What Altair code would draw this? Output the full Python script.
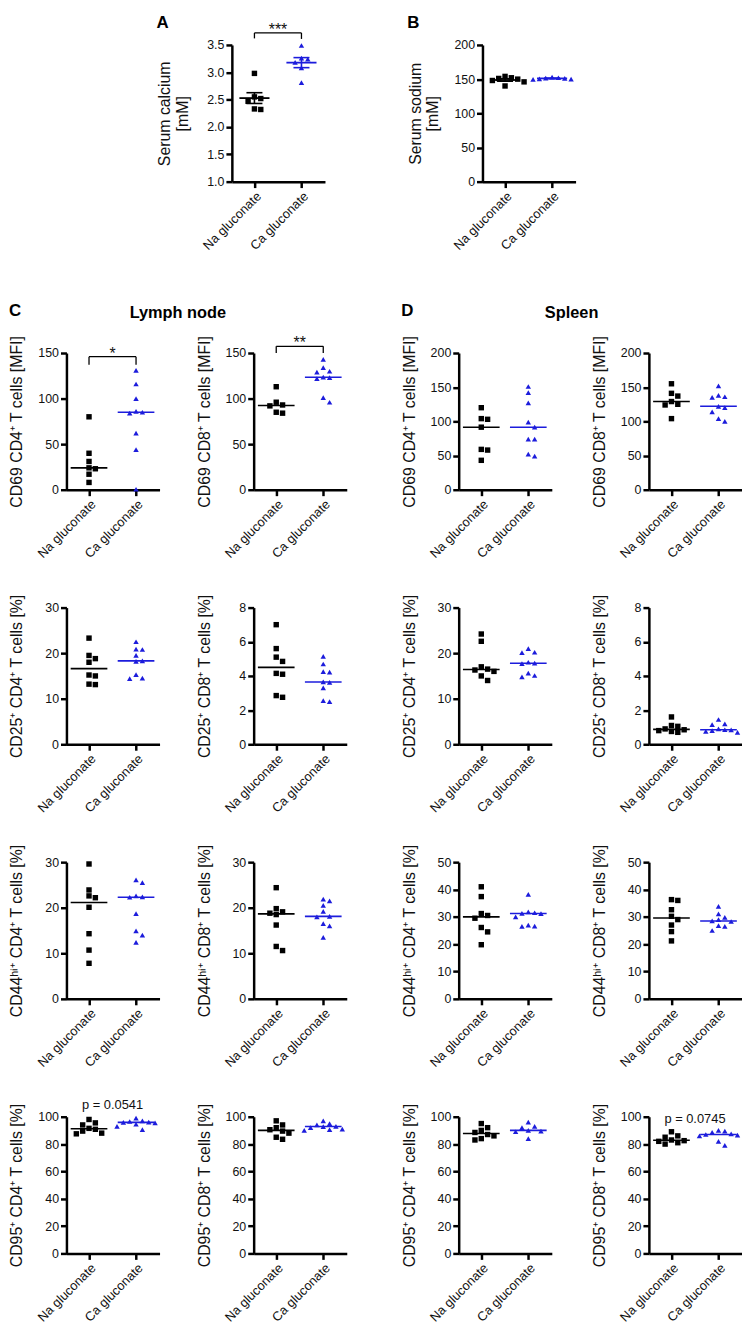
import altair as alt
import pandas as pd

# ---------------- data ----------------
GROUPS = ["Na gluconate", "Ca gluconate"]

A_NA = [2.98, 2.55, 2.52, 2.47, 2.33, 2.32]
A_CA = [3.49, 3.26, 3.24, 3.18, 3.08, 2.81]
B_NA = [154, 152, 151, 150, 148, 146, 140]
B_CA = [153, 152, 151.5, 151, 150.5, 150, 149.5]

LN_CD69_CD4_NA = [80, 40, 31, 24, 23, 17, 8]
LN_CD69_CD4_CA = [131, 116, 100, 86, 85, 84, 62, 44, 0.5]
LN_CD69_CD8_NA = [113, 96, 93, 92, 85, 84]
LN_CD69_CD8_CA = [143, 134, 130, 129, 123.5, 123, 122, 101, 96]
SP_CD69_CD4_NA = [120, 104, 103, 91.5, 59, 58, 43]
SP_CD69_CD4_CA = [151, 142, 127, 99, 91.5, 74, 74, 52, 49]
SP_CD69_CD8_NA = [155, 141, 137, 129, 125, 124, 104]
SP_CD69_CD8_CA = [152, 138, 136, 135, 122, 120, 114, 104, 100]

LN_CD25_CD4_NA = [23.3, 19.5, 18.8, 18.0, 15.2, 15.0, 13.2, 13.1]
LN_CD25_CD4_CA = [22.5, 20.9, 20.8, 19.5, 18.3, 18.2, 15.3, 14.5, 14.4]
LN_CD25_CD8_NA = [7.0, 5.6, 5.1, 4.85, 4.15, 4.1, 2.85, 2.75]
LN_CD25_CD8_CA = [5.15, 4.7, 4.25, 4.22, 3.65, 3.62, 3.3, 2.55, 2.5]
SP_CD25_CD4_NA = [24.2, 22.6, 17.0, 16.5, 16.3, 16.0, 15.0, 14.0]
SP_CD25_CD4_CA = [21.0, 20.2, 20.1, 18.0, 17.8, 17.7, 15.6, 15.1, 14.8]
SP_CD25_CD8_NA = [1.6, 1.1, 1.05, 0.9, 0.85, 0.8, 0.75, 0.7]
SP_CD25_CD8_CA = [1.45, 1.2, 1.15, 0.9, 0.85, 0.84, 0.8, 0.75, 0.7]

LN_CD44_CD4_NA = [29.6, 23.9, 22.6, 22.2, 20.1, 14.3, 10.7, 7.8]
LN_CD44_CD4_CA = [26.1, 25.5, 22.6, 22.4, 22.3, 18.7, 14.9, 14.0, 12.4]
LN_CD44_CD8_NA = [24.4, 19.8, 19.1, 18.8, 18.5, 16.2, 11.5, 10.6]
LN_CD44_CD8_CA = [21.9, 21.5, 20.5, 19.2, 18.1, 18.0, 16.5, 16.0, 13.5]
SP_CD44_CD4_NA = [41.0, 37.4, 31.2, 30.5, 29.5, 26.1, 24.5, 19.8]
SP_CD44_CD4_CA = [38.2, 31.8, 31.5, 31.3, 31.2, 30.0, 27.0, 26.6, 26.5]
SP_CD44_CD8_NA = [36.3, 36.0, 32.6, 30.2, 29.0, 27.0, 24.6, 21.2]
SP_CD44_CD8_CA = [33.8, 31.1, 29.8, 29.0, 28.5, 28.3, 26.8, 26.5, 25.0]

LN_CD95_CD4_NA = [98, 95.5, 94, 91.5, 90.8, 89.5, 88, 87.5]
LN_CD95_CD4_CA = [99, 97, 96.5, 96, 95.9, 95.5, 94.5, 93, 90.5]
LN_CD95_CD8_NA = [97, 94, 92, 90.5, 89.5, 88, 85, 83.5]
LN_CD95_CD8_CA = [97, 95, 94, 93, 92.8, 92, 91, 90.5, 90]
SP_CD95_CD4_NA = [95, 92, 90, 88.5, 87, 86, 84, 83]
SP_CD95_CD4_CA = [96, 93, 92, 90, 89.5, 89, 84]
SP_CD95_CD8_NA = [89, 86, 85, 83, 82.5, 82, 81, 80]
SP_CD95_CD8_CA = [90, 89.5, 88.5, 87.5, 87, 86.5, 86, 82, 79]

# ---------------- style / layout ----------------
NA_COLOR = "#000000"
CA_COLOR = "#1c1cdc"
FONT = "Liberation Sans"
PW, PH = 94, 138
XLO, XHI = -0.48, 1.5
GHOST = -31
GHOST_AB = -24

SPACER_W = 8
AB_SP = 83
C_COL_SP = 36
D_COL_SP = 39
ROW_SP = 15
CD_SP = 54
V_SP = 49


def swarm(vals, lo, hi, d=6.4, s=5.6):
    unit = PW / (XHI - XLO)
    pys = [(v - lo) / (hi - lo) * PH for v in vals]
    order = sorted(range(len(vals)), key=lambda i: -vals[i])
    cands = [0.0]
    for k in range(1, 14):
        cands += [k * d / 2, -k * d / 2]
    placed = []
    offs = [0.0] * len(vals)
    for i in order:
        chosen = cands[-1]
        for ox in cands:
            if all(not (abs(ox - px) < d * 0.95 and abs(pys[i] - py) < s) for px, py in placed):
                chosen = ox
                break
        placed.append((chosen, pys[i]))
        offs[i] = chosen / unit
    return offs


def make_panel(na, ca, lo, hi, ticks, title, fmt=None, kind="median",
               rules=None, texts=None, letter=None, ghost=GHOST):
    off_na = swarm(na, lo, hi)
    off_ca = swarm(ca, lo, hi)
    df = pd.DataFrame({
        "g": [GROUPS[0]] * len(na) + [GROUPS[1]] * len(ca),
        "gi": [0] * len(na) + [1] * len(ca),
        "v": list(na) + list(ca),
        "x": [0 + o for o in off_na] + [1 + o for o in off_ca],
    })
    xs = alt.Scale(domain=[XLO, XHI], nice=False, zero=False)
    ys = alt.Scale(domain=[lo, hi], nice=False, zero=False)
    xax = alt.Axis(values=[0, 1],
                   labelExpr="datum.value < 0.5 ? 'Na gluconate' : 'Ca gluconate'",
                   labelAngle=-45, labelOverlap=False, labelFlush=False, grid=False,
                   domainWidth=2.5, domainColor="black", tickWidth=2.5, tickColor="black",
                   tickSize=6, labelFontSize=13, labelPadding=2, labelColor="#111111")
    ykw = dict(values=ticks, grid=False, domainWidth=2.5, domainColor="black",
               tickWidth=2.5, tickColor="black", tickSize=6, labelFontSize=12.5,
               labelPadding=2, labelOverlap=False, labelFlush=False, minExtent=30,
               titlePadding=12, titleFontSize=16, titleFontWeight="normal",
               labelColor="#111111", titleColor="#111111")
    if fmt:
        ykw["format"] = fmt
    yax = alt.Axis(**ykw)

    def X(f):
        return alt.X(f, scale=xs, axis=xax, title=None)

    def Y(f):
        return alt.Y(f, scale=ys, axis=yax, title=title)

    col = alt.Color("g:N", scale=alt.Scale(domain=GROUPS, range=[NA_COLOR, CA_COLOR]), legend=None)
    shp = alt.Shape("g:N", scale=alt.Scale(domain=GROUPS, range=["square", "triangle-up"]), legend=None)

    layers = []
    layers.append(alt.Chart(pd.DataFrame({"z": [0]})).mark_point(opacity=0, size=4)
                  .encode(x=alt.value(PW / 2), y=alt.value(ghost)))
    base = alt.Chart(df)
    layers.append(base.mark_point(filled=True, opacity=1, size=30)
                  .encode(x=X("x:Q"), y=Y("v:Q"), color=col, shape=shp))
    if kind == "median":
        layers.append(base.transform_aggregate(v="median(v)", groupby=["g", "gi"])
                      .transform_calculate(x1="datum.gi - 0.39", x2="datum.gi + 0.39")
                      .mark_rule(strokeWidth=1.6)
                      .encode(x=X("x1:Q"), x2="x2:Q", y=Y("v:Q"), color=col))
    else:
        agg = (base.transform_aggregate(m="mean(v)", se="stderr(v)", groupby=["g", "gi"])
               .transform_calculate(lo="datum.m - datum.se", hi="datum.m + datum.se",
                                    xa="datum.gi - 0.32", xb="datum.gi + 0.32",
                                    ca="datum.gi - 0.17", cb="datum.gi + 0.17"))
        layers.append(agg.mark_rule(strokeWidth=1.8).encode(x=X("xa:Q"), x2="xb:Q", y=Y("m:Q"), color=col))
        layers.append(agg.mark_rule(strokeWidth=1.6).encode(x=X("ca:Q"), x2="cb:Q", y=Y("lo:Q"), color=col))
        layers.append(agg.mark_rule(strokeWidth=1.6).encode(x=X("ca:Q"), x2="cb:Q", y=Y("hi:Q"), color=col))
        layers.append(agg.mark_rule(strokeWidth=1.6).encode(x=X("gi:Q"), y=Y("lo:Q"), y2="hi:Q", color=col))
    if rules:
        rdf = pd.DataFrame(rules, columns=["x1", "x2", "y1", "y2"])
        layers.append(alt.Chart(rdf).mark_rule(color="black", strokeWidth=1.3)
                      .encode(x=X("x1:Q"), x2="x2:Q", y=Y("y1:Q"), y2="y2:Q"))
    if texts:
        tdf = pd.DataFrame(texts, columns=["t", "x", "y", "fs"])
        layers.append(alt.Chart(tdf).mark_text(baseline="alphabetic", color="#111111", font=FONT)
                      .encode(x=X("x:Q"), y=Y("y:Q"), text="t:N",
                              size=alt.Size("fs:Q", scale=None, legend=None)))
    ch = alt.layer(*layers).properties(width=PW, height=PH)
    if letter:
        ch = ch.properties(title=alt.TitleParams(letter, anchor="start", fontSize=17, fontWeight="bold",
                                                 offset=0, dy=12, font=FONT, color="#000000"))
    return ch


T_150 = [0, 50, 100, 150]
T_200 = [0, 50, 100, 150, 200]
T_30 = [0, 10, 20, 30]
T_8 = [0, 2, 4, 6, 8]
T_50 = [0, 10, 20, 30, 40, 50]
T_100 = [0, 20, 40, 60, 80, 100]

pA = make_panel(A_NA, A_CA, 1.0, 3.5, [1.0, 1.5, 2.0, 2.5, 3.0, 3.5], ["Serum calcium", "[mM]"],
                fmt=".1f", kind="mean",
                rules=[(0, 1, 3.72, 3.72), (0, 0, 3.62, 3.72), (1, 1, 3.61, 3.72)],
                texts=[("***", 0.5, 3.68, 16)], letter="A", ghost=GHOST_AB)
pB = make_panel(B_NA, B_CA, 0, 200, T_200, ["Serum sodium", "[mM]"], kind="mean", letter="B",
                ghost=GHOST_AB)

C_panels = [
    make_panel(LN_CD69_CD4_NA, LN_CD69_CD4_CA, 0, 150, T_150, "CD69 CD4\u207a T cells [MFI]",
               rules=[(0, 1, 146, 146), (0, 0, 137, 146), (1, 1, 137, 146)],
               texts=[("*", 0.5, 143.5, 16)]),
    make_panel(LN_CD69_CD8_NA, LN_CD69_CD8_CA, 0, 150, T_150, "CD69 CD8\u207a T cells [MFI]",
               rules=[(0, 1, 157.3, 157.3), (0, 0, 150, 157.3), (1, 1, 150, 157.3)],
               texts=[("**", 0.5, 155, 16)]),
    make_panel(LN_CD25_CD4_NA, LN_CD25_CD4_CA, 0, 30, T_30, "CD25\u207a CD4\u207a T cells [%]"),
    make_panel(LN_CD25_CD8_NA, LN_CD25_CD8_CA, 0, 8, T_8, "CD25\u207a CD8\u207a T cells [%]"),
    make_panel(LN_CD44_CD4_NA, LN_CD44_CD4_CA, 0, 30, T_30, "CD44\u02b0\u2071\u207a CD4\u207a T cells [%]"),
    make_panel(LN_CD44_CD8_NA, LN_CD44_CD8_CA, 0, 30, T_30, "CD44\u02b0\u2071\u207a CD8\u207a T cells [%]"),
    make_panel(LN_CD95_CD4_NA, LN_CD95_CD4_CA, 0, 100, T_100, "CD95\u207a CD4\u207a T cells [%]",
               texts=[("p = 0.0541", 0.5, 105.8, 13)]),
    make_panel(LN_CD95_CD8_NA, LN_CD95_CD8_CA, 0, 100, T_100, "CD95\u207a CD8\u207a T cells [%]"),
]
D_panels = [
    make_panel(SP_CD69_CD4_NA, SP_CD69_CD4_CA, 0, 200, T_200, "CD69 CD4\u207a T cells [MFI]"),
    make_panel(SP_CD69_CD8_NA, SP_CD69_CD8_CA, 0, 200, T_200, "CD69 CD8\u207a T cells [MFI]"),
    make_panel(SP_CD25_CD4_NA, SP_CD25_CD4_CA, 0, 30, T_30, "CD25\u207a CD4\u207a T cells [%]"),
    make_panel(SP_CD25_CD8_NA, SP_CD25_CD8_CA, 0, 8, T_8, "CD25\u207a CD8\u207a T cells [%]"),
    make_panel(SP_CD44_CD4_NA, SP_CD44_CD4_CA, 0, 50, T_50, "CD44\u02b0\u2071\u207a CD4\u207a T cells [%]"),
    make_panel(SP_CD44_CD8_NA, SP_CD44_CD8_CA, 0, 50, T_50, "CD44\u02b0\u2071\u207a CD8\u207a T cells [%]"),
    make_panel(SP_CD95_CD4_NA, SP_CD95_CD4_CA, 0, 100, T_100, "CD95\u207a CD4\u207a T cells [%]"),
    make_panel(SP_CD95_CD8_NA, SP_CD95_CD8_CA, 0, 100, T_100, "CD95\u207a CD8\u207a T cells [%]",
               texts=[("p = 0.0745", 0.5, 95.7, 13)]),
]

spacer = (alt.Chart(pd.DataFrame({"z": [0]})).mark_point(opacity=0, size=1)
          .encode(x=alt.value(0), y=alt.value(5)).properties(width=SPACER_W, height=10))
ab_row = alt.hconcat(spacer, pA, pB, spacing=AB_SP)

c_grid = alt.concat(*C_panels, columns=2, spacing={"row": ROW_SP, "column": C_COL_SP},
                    title=alt.TitleParams("Lymph node", anchor="middle", fontSize=16.5,
                                          fontWeight="bold", offset=0, font=FONT, color="#000000"))
d_grid = alt.concat(*D_panels, columns=2, spacing={"row": ROW_SP, "column": D_COL_SP},
                    title=alt.TitleParams("Spleen", anchor="middle", fontSize=16.5,
                                          fontWeight="bold", offset=0, font=FONT, color="#000000"))
c_wrap = alt.vconcat(c_grid, title=alt.TitleParams("C", anchor="start", fontSize=17, fontWeight="bold",
                                                   offset=0, dy=15, font=FONT, color="#000000"))
d_wrap = alt.vconcat(d_grid, title=alt.TitleParams("D", anchor="start", fontSize=17, fontWeight="bold",
                                                   offset=0, dy=15, font=FONT, color="#000000"))
cd_row = alt.hconcat(c_wrap, d_wrap, spacing=CD_SP)

chart = (alt.vconcat(ab_row, cd_row, spacing=V_SP)
         .properties(padding={"left": 0, "top": 0, "right": 0, "bottom": 0})
         .configure(font=FONT)
         .configure_view(stroke=None)
         .configure_axis(labelFont=FONT, titleFont=FONT))

chart.save("out.html", embed_options={"renderer": "svg", "actions": False})
